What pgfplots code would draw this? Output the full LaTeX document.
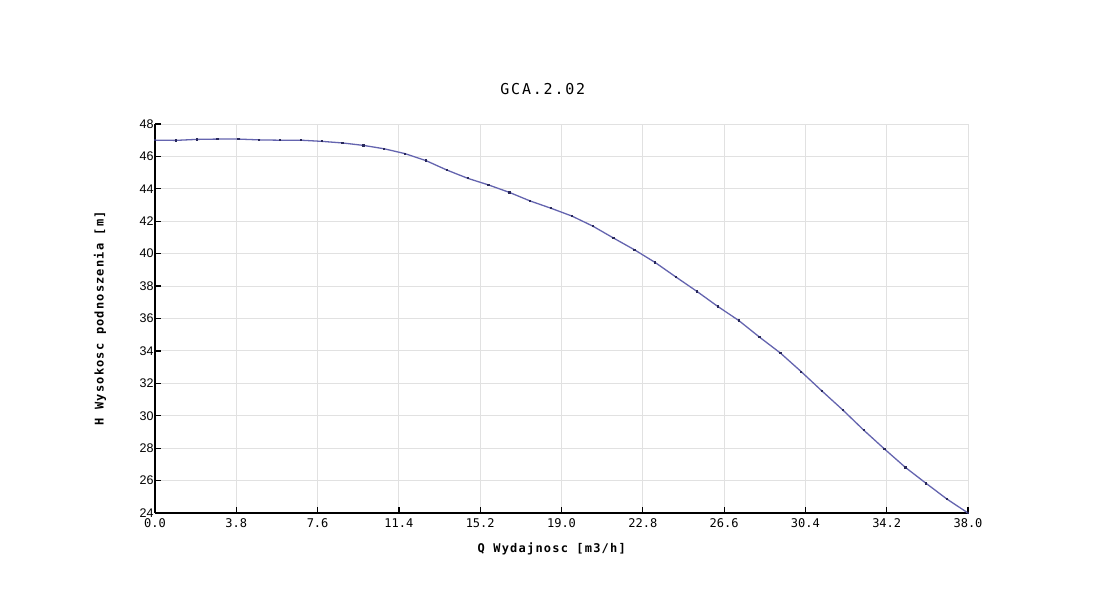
\documentclass[border=0pt]{standalone}
\usepackage{fontspec}
\usepackage{pgfplots}
\pgfplotsset{compat=1.18}
\newfontfamily\titlefont[LetterSpace=12]{DejaVu Sans Mono}
\newfontfamily\labelfont[LetterSpace=10]{DejaVu Sans Mono Bold}
\newfontfamily\monofont{DejaVu Sans Mono}
\newfontfamily\sansfont{Liberation Sans}
\definecolor{curve}{RGB}{100,100,175}
\definecolor{markc}{RGB}{40,40,90}
\definecolor{gridc}{RGB}{225,225,225}
\begin{document}
\begin{tikzpicture}
\useasboundingbox (0,0) rectangle (1107pt,614pt);
\fill[white] (0,0) rectangle (1107pt,614pt);
\begin{axis}[
  scale only axis,
  width=813pt, height=389pt,
  at={(155pt,101pt)}, anchor=south west,
  xmin=0, xmax=38, ymin=24, ymax=48,
  xtick={0,3.8,7.6,11.4,15.2,19,22.8,26.6,30.4,34.2,38},
  ytick={24,26,...,48},
  axis x line=bottom, axis y line=left,
  axis line style={black, line width=1.6pt, -},
  tick align=inside,
  major tick length=6pt,
  tick style={black, line width=1.2pt},
  grid=major,
  major grid style={gridc, line width=0.9pt},
  /pgf/number format/assume math mode=true,
  xticklabel style={font=\fontsize{12}{14}\monofont, /pgf/number format/fixed, /pgf/number format/fixed zerofill, /pgf/number format/precision=1, yshift=-2pt},
  yticklabel style={font=\fontsize{12.5}{14}\sansfont, xshift=2pt},
  title={GCA.2.02},
  title style={font=\fontsize{15}{17}\titlefont, at={(axis description cs:0.477,1.075)}, anchor=center},
  xlabel={Q Wydajnosc [m3/h]},
  xlabel style={font=\fontsize{12}{14}\labelfont, at={(axis description cs:0.488,-0.093)}, anchor=center},
  ylabel={H Wysokosc podnoszenia [m]},
  ylabel style={font=\fontsize{12}{14}\labelfont, at={(axis description cs:-0.0677,0.501)}, anchor=center, rotate=0},
  clip=false,
]
\addplot[curve, line width=1.3pt, mark=square*, mark size=0.5pt, mark options={markc, fill=markc}] coordinates {
(0.000,47.00) (0.974,46.99) (1.949,47.05) (2.923,47.07) (3.897,47.07)
(4.872,47.02) (5.846,47.00) (6.821,47.00) (7.795,46.93) (8.769,46.83)
(9.744,46.68) (10.718,46.47) (11.692,46.17) (12.667,45.74) (13.641,45.16)
(14.615,44.65) (15.590,44.24) (16.564,43.78) (17.538,43.25) (18.513,42.80)
(19.487,42.32) (20.462,41.70) (21.436,40.96) (22.410,40.24) (23.385,39.45)
(24.359,38.55) (25.333,37.67) (26.308,36.74) (27.282,35.88) (28.256,34.85)
(29.231,33.87) (30.205,32.72) (31.179,31.52) (32.154,30.35) (33.128,29.11)
(34.103,27.94) (35.077,26.81) (36.051,25.82) (37.026,24.85) (38.000,24.00)
};
\end{axis}
\end{tikzpicture}
\end{document}
